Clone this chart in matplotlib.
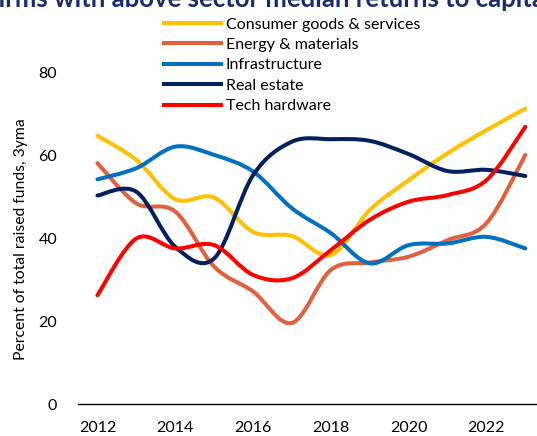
import numpy as np
import matplotlib
matplotlib.use("Agg")
import matplotlib.pyplot as plt
from matplotlib.path import Path
from matplotlib.patches import PathPatch
from matplotlib.lines import Line2D

plt.rcParams['font.family'] = ['Lato', 'DejaVu Sans']

years = [2012, 2013, 2014, 2015, 2016, 2017, 2018, 2019, 2020, 2021, 2022, 2023]
consumer = [64.8, 59.0, 49.5, 49.9, 41.6, 40.6, 36.0, 46.9, 54.1, 60.6, 66.2, 71.4]
energy = [58.2, 48.5, 46.5, 33.2, 27.2, 19.6, 32.4, 34.2, 35.6, 39.6, 43.7, 60.2]
infra = [54.3, 57.0, 62.2, 60.2, 56.2, 47.3, 41.3, 34.0, 38.4, 38.8, 40.4, 37.6]
realestate = [50.4, 51.3, 38.0, 35.2, 55.3, 63.4, 64.0, 63.6, 60.4, 56.3, 56.6, 55.1]
tech = [26.3, 40.0, 37.6, 38.4, 31.2, 30.4, 37.2, 44.5, 48.9, 50.5, 54.1, 67.0]

series = [
    ("Consumer goods & services", consumer, "#FFC000"),
    ("Energy & materials", energy, "#E2603C"),
    ("Infrastructure", infra, "#0070C0"),
    ("Real estate", realestate, "#002060"),
    ("Tech hardware", tech, "#FF0000"),
]

W, H = 537, 436
fig = plt.figure(figsize=(W / 100, H / 100), dpi=100)
x0_px, y0_px = 78, 404
px_per_year = 38.9
px_per_unit = (404 - 73) / 80
xmin, xmax = 2011.5, 2023.5
ymin, ymax = 0, 90
ax_w_px = (xmax - xmin) * px_per_year
ax_h_px = (ymax - ymin) * px_per_unit
ax = fig.add_axes([x0_px / W, 1 - y0_px / H, ax_w_px / W, ax_h_px / H])
ax.set_xlim(xmin, xmax)
ax.set_ylim(ymin, ymax)


def smooth_path(xs, ys):
    xs = np.asarray(xs, float)
    ys = np.asarray(ys, float)
    pts = np.column_stack([xs, ys])
    n = len(pts)
    verts = [pts[0]]
    codes = [Path.MOVETO]
    for i in range(n - 1):
        p0 = pts[i - 1] if i > 0 else pts[i]
        p1 = pts[i]
        p2 = pts[i + 1]
        p3 = pts[i + 2] if i + 2 < n else pts[i + 1]
        c1 = p1 + (p2 - p0) / 6.0
        c2 = p2 - (p3 - p1) / 6.0
        verts += [c1, c2, p2]
        codes += [Path.CURVE4] * 3
    return Path(verts, codes)


handles = []
for name, vals, col in series:
    patch = PathPatch(smooth_path(years, vals), facecolor="none", edgecolor=col,
                      lw=2.9, capstyle="round", joinstyle="round")
    ax.add_patch(patch)
    handles.append(Line2D([], [], color=col, lw=2.9, label=name))

for s in ["top", "right", "left"]:
    ax.spines[s].set_visible(False)
ax.spines["bottom"].set_color("black")
ax.spines["bottom"].set_linewidth(1.0)
ax.set_xticks([2012, 2014, 2016, 2018, 2020, 2022])
ax.set_yticks([0, 20, 40, 60, 80])
ax.tick_params(axis="both", length=0, labelsize=11.5, colors="black")
ax.tick_params(axis="y", pad=15)
ax.tick_params(axis="x", pad=12)
ax.set_ylabel("Percent of total raised funds, 3yma", fontsize=11.3)
ax.yaxis.set_label_coords(-(x0_px - 28) / ax_w_px, (404 - 239) / ax_h_px)

leg = fig.legend(handles=handles, loc="upper left",
                 bbox_to_anchor=(158 / W, 1 - 11 / H),
                 frameon=False, fontsize=11.5, handlelength=3.55,
                 handletextpad=0.3, labelspacing=0.39, borderaxespad=0)

fig.text(268 / W, 1 - 7 / H, "Firms with above sector median returns to capital",
         ha="center", va="baseline", fontsize=18.5, fontweight="bold", color="#1A2C6E")

fig.savefig("out.png", dpi=100)
